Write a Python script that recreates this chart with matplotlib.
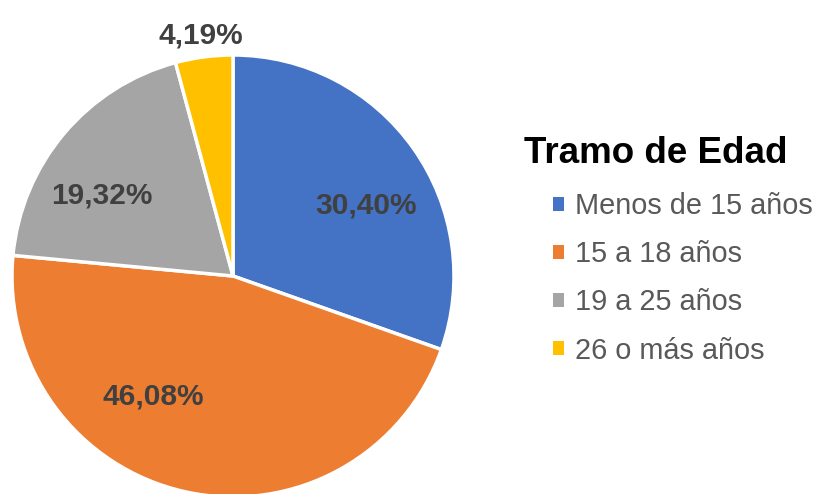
import matplotlib
matplotlib.use("Agg")
import matplotlib.pyplot as plt
from matplotlib.patches import Patch
import numpy as np

categories = ["Menos de 15 años", "15 a 18 años", "19 a 25 años", "26 o más años"]
values = [30.40, 46.08, 19.32, 4.19]
value_labels = ["30,40%", "46,08%", "19,32%", "4,19%"]
colors = ["#4472C4", "#ED7D31", "#A5A5A5", "#FFC000"]
legend_title = "Tramo de Edad"

# label placement style (radius fraction, angle offset in degrees from wedge middle)
label_radius = [0.68, 0.655, 0.695, 1.10]
label_angle_offset = [-7.3, -20.9, 8.7, 0.0]

plt.rcParams['font.family'] = ['Liberation Sans', 'DejaVu Sans']

W, H = 820, 494
fig = plt.figure(figsize=(W / 100, H / 100), dpi=100)
cx, cy, R = 233, 276, 221
ax = fig.add_axes([(cx - R) / W, (H - cy - R) / H, 2 * R / W, 2 * R / H])
wedges, _ = ax.pie(values, colors=colors, startangle=90, counterclock=False,
                   radius=1.0, wedgeprops=dict(edgecolor="white", linewidth=2.5))
ax.set_xlim(-1, 1)
ax.set_ylim(-1, 1)
ax.set_aspect("equal")
ax.axis("off")

for w, lab, r, off in zip(wedges, value_labels, label_radius, label_angle_offset):
    mid = np.deg2rad((w.theta1 + w.theta2) / 2 + off)
    ax.text(r * np.cos(mid), r * np.sin(mid), lab, ha="center", va="center",
            fontsize=21.5, fontweight="bold", color="#404040", clip_on=False)

fig.text(524 / W, 1 - 163 / H, legend_title, ha="left", va="baseline",
         fontsize=26.5, fontweight="bold", color="black")

handles = [Patch(facecolor=c, edgecolor="none") for c in colors]
leg = fig.legend(handles, categories, loc="upper left",
                 bbox_to_anchor=(553 / W, 1 - 192 / H), frameon=False,
                 fontsize=20.8, handlelength=0.38, handleheight=0.38,
                 handletextpad=0.38, labelspacing=0.70, borderpad=0,
                 borderaxespad=0)
for t in leg.get_texts():
    t.set_color("#595959")

fig.savefig("out.png", dpi=100)
